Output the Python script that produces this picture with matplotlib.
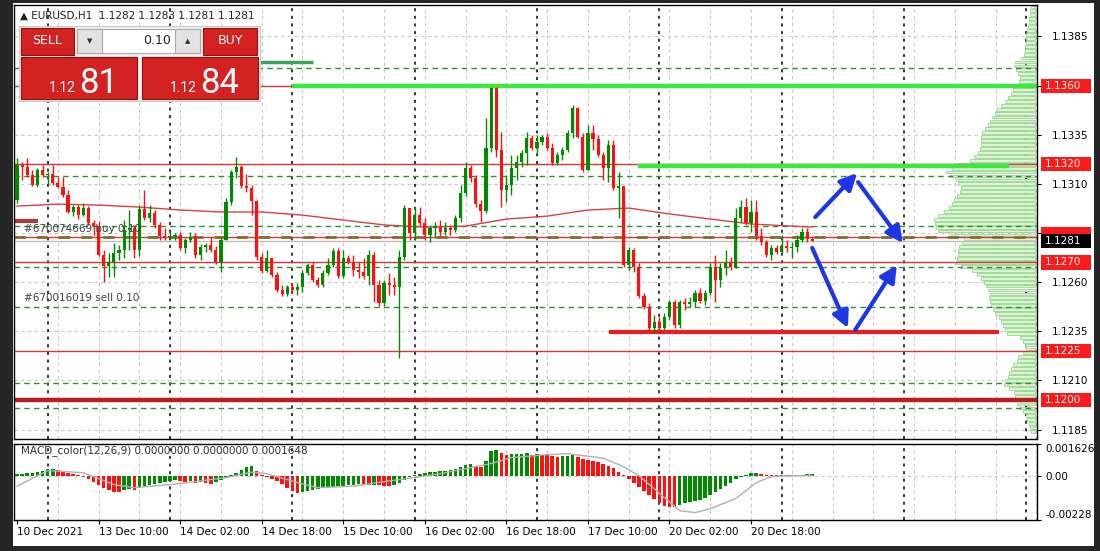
import numpy as np
import matplotlib
matplotlib.use("Agg")
import matplotlib.pyplot as plt
from matplotlib.patches import Rectangle
from matplotlib.transforms import blended_transform_factory

# ---------------- data ----------------
# EURUSD H1 candles, bar 0 = 10 Dec 18:00 ... bar 156 = 21 Dec 05:00
first_open = 1.13018
close = [1.13196, 1.13186, 1.13145, 1.13094, 1.13170, 1.13145, 1.13150, 1.13104, 1.13084, 1.13043,
         1.12957, 1.12982, 1.12941, 1.12977, 1.12901, 1.12885, 1.12738, 1.12682, 1.12702, 1.12748,
         1.12763, 1.12865, 1.12875, 1.12763, 1.12972, 1.12926, 1.12952, 1.12891, 1.12835, 1.12830,
         1.12835, 1.12838, 1.12774, 1.12814, 1.12830, 1.12738, 1.12779, 1.12789, 1.12763, 1.12702,
         1.12814, 1.13008, 1.13160, 1.13186, 1.13089, 1.13079, 1.13013, 1.12728, 1.12656, 1.12723,
         1.12636, 1.12560, 1.12539, 1.12575, 1.12560, 1.12575, 1.12646, 1.12687, 1.12611, 1.12585,
         1.12646, 1.12687, 1.12758, 1.12631, 1.12723, 1.12702, 1.12662, 1.12651, 1.12631, 1.12738,
         1.12585, 1.12494, 1.12595, 1.12585, 1.12575, 1.12728, 1.12977, 1.12850, 1.12941, 1.12901,
         1.12840, 1.12875, 1.12880, 1.12855, 1.12875, 1.12865, 1.12926, 1.13053, 1.13181, 1.13130,
         1.12997, 1.12962, 1.13282, 1.13588, 1.13272, 1.13069, 1.13094, 1.13181, 1.13211, 1.13257,
         1.13333, 1.13282, 1.13313, 1.13338, 1.13282, 1.13206, 1.13247, 1.13272, 1.13359, 1.13486,
         1.13338, 1.13170, 1.13359, 1.13328, 1.13247, 1.13181, 1.13298, 1.13079, 1.13089, 1.12687,
         1.12763, 1.12677, 1.12529, 1.12473, 1.12366, 1.12397, 1.12366, 1.12422, 1.12499, 1.12382,
         1.12499, 1.12489, 1.12499, 1.12545, 1.12504, 1.12545, 1.12677, 1.12611, 1.12672, 1.12697,
         1.12677, 1.12926, 1.12982, 1.12901, 1.12957, 1.12835, 1.12804, 1.12738, 1.12774, 1.12753,
         1.12784, 1.12774, 1.12779, 1.12814, 1.12855, 1.12819, 1.12810]
high = [1.13232, 1.13211, 1.13232, 1.13170, 1.13181, 1.13196, 1.13160, 1.13196, 1.13135, 1.13135,
        1.13069, 1.12992, 1.12992, 1.13003, 1.12987, 1.12916, 1.12911, 1.12763, 1.12748, 1.12799,
        1.12789, 1.12916, 1.12967, 1.12891, 1.12992, 1.13069, 1.12992, 1.12967, 1.12906, 1.12875,
        1.12855, 1.12850, 1.12855, 1.12824, 1.12855, 1.12850, 1.12794, 1.12799, 1.12830, 1.12784,
        1.12824, 1.13028, 1.13170, 1.13237, 1.13196, 1.13150, 1.13094, 1.13018, 1.12748, 1.12763,
        1.12723, 1.12651, 1.12585, 1.12585, 1.12595, 1.12595, 1.12662, 1.12697, 1.12702, 1.12626,
        1.12662, 1.12723, 1.12774, 1.12774, 1.12763, 1.12738, 1.12738, 1.12702, 1.12723, 1.12763,
        1.12753, 1.12611, 1.12611, 1.12646, 1.12626, 1.12763, 1.12992, 1.12941, 1.12982, 1.12982,
        1.12926, 1.12891, 1.12906, 1.12916, 1.12906, 1.12891, 1.12941, 1.13094, 1.13211, 1.13196,
        1.13145, 1.13018, 1.13435, 1.13593, 1.13593, 1.13364, 1.13145, 1.13247, 1.13247, 1.13272,
        1.13364, 1.13349, 1.13349, 1.13349, 1.13359, 1.13308, 1.13262, 1.13288, 1.13374, 1.13501,
        1.13491, 1.13359, 1.13399, 1.13399, 1.13349, 1.13262, 1.13323, 1.13323, 1.13160, 1.13084,
        1.12779, 1.12774, 1.12697, 1.12545, 1.12494, 1.12433, 1.12422, 1.12443, 1.12509, 1.12509,
        1.12509, 1.12519, 1.12524, 1.12560, 1.12570, 1.12560, 1.12697, 1.12738, 1.12697, 1.12763,
        1.12728, 1.12977, 1.13018, 1.13028, 1.13018, 1.13018, 1.12875, 1.12814, 1.12789, 1.12789,
        1.12840, 1.12814, 1.12804, 1.12840, 1.12875, 1.12875, 1.12830]
low = [1.13003, 1.13120, 1.13135, 1.13089, 1.13084, 1.13135, 1.13094, 1.13094, 1.13079, 1.13033,
       1.12952, 1.12936, 1.12921, 1.12936, 1.12891, 1.12840, 1.12733, 1.12601, 1.12626, 1.12626,
       1.12712, 1.12723, 1.12763, 1.12723, 1.12733, 1.12916, 1.12906, 1.12875, 1.12814, 1.12814,
       1.12819, 1.12814, 1.12763, 1.12748, 1.12804, 1.12723, 1.12712, 1.12753, 1.12753, 1.12692,
       1.12651, 1.12814, 1.12992, 1.13130, 1.13079, 1.13059, 1.12941, 1.12712, 1.12646, 1.12651,
       1.12626, 1.12550, 1.12529, 1.12529, 1.12545, 1.12534, 1.12550, 1.12636, 1.12601, 1.12575,
       1.12575, 1.12636, 1.12677, 1.12621, 1.12621, 1.12692, 1.12631, 1.12621, 1.12616, 1.12585,
       1.12499, 1.12478, 1.12478, 1.12534, 1.12534, 1.12214, 1.12712, 1.12814, 1.12814, 1.12885,
       1.12814, 1.12804, 1.12824, 1.12835, 1.12840, 1.12840, 1.12855, 1.12906, 1.13038, 1.13109,
       1.12982, 1.12906, 1.12952, 1.13262, 1.13237, 1.12982, 1.13008, 1.13043, 1.13120, 1.13186,
       1.13196, 1.13272, 1.13247, 1.13298, 1.13272, 1.13196, 1.13196, 1.13221, 1.13262, 1.13333,
       1.13333, 1.13160, 1.13170, 1.13272, 1.13237, 1.13120, 1.13109, 1.13069, 1.12926, 1.12677,
       1.12662, 1.12651, 1.12519, 1.12463, 1.12356, 1.12341, 1.12341, 1.12356, 1.12407, 1.12366,
       1.12366, 1.12458, 1.12473, 1.12473, 1.12494, 1.12483, 1.12534, 1.12499, 1.12575, 1.12636,
       1.12662, 1.12672, 1.12906, 1.12891, 1.12855, 1.12814, 1.12789, 1.12728, 1.12712, 1.12743,
       1.12748, 1.12753, 1.12723, 1.12753, 1.12804, 1.12804, 1.12810]

date_ticks = [0, 16, 32, 48, 64, 80, 96, 112, 128, 144]
date_labels = ["10 Dec 2021", "13 Dec 10:00", "14 Dec 02:00", "14 Dec 18:00", "15 Dec 10:00",
               "16 Dec 02:00", "16 Dec 18:00", "17 Dec 10:00", "20 Dec 02:00", "20 Dec 18:00"]
day_starts = [6, 30, 54, 78, 102, 126, 150, 174, 198]

# slow moving average (red line)
ma_bars = [0, 8, 16, 24, 32, 40, 48, 56, 64, 72, 80, 88, 96, 104, 112, 120, 128, 136, 144, 152, 156]
ma_vals = [1.12987, 1.12997, 1.12992, 1.12982, 1.12967, 1.12957, 1.12957, 1.12941, 1.12916, 1.12891,
           1.12880, 1.12885, 1.12921, 1.12936, 1.12967, 1.12977, 1.12947, 1.12921, 1.12896, 1.12885,
           1.12880]

# MACD histogram, in 1e-5
macd_hist = [8, 10, 13, 15, 21, 26, 33, 36, 31, 21, 15, 10, 5, -5, -15, -31, -46, -62, -72, -82,
             -85, -72, -67, -72, -62, -51, -46, -41, -36, -31, -26, -23, -26, -31, -28, -36, -31, -36, -41, -31,
             -21, -10, 3, 15, 31, 46, 49, 26, 5, -5, -15, -26, -41, -62, -77, -87, -82, -77, -72, -67,
             -62, -59, -57, -54, -51, -49, -46, -44, -46, -49, -46, -49, -51, -54, -46, -36, -21, -5, 5, 10,
             15, 18, 21, 23, 26, 31, 36, 46, 57, 62, 51, 46, 77, 129, 134, 118, 108, 111, 111, 113,
             116, 108, 111, 108, 105, 100, 98, 100, 103, 105, 98, 87, 82, 77, 72, 62, 51, 41, 21, 5,
             -15, -36, -57, -77, -98, -118, -139, -154, -159, -162, -149, -139, -134, -129, -123, -113, -98, -82, -67, -51,
             -36, -15, -5, 5, 13, 13, 10, 5, 3, 2, 2, 3, 4, 4, 5, 6, 10]
signal_bars = [0, 6, 13, 19, 23, 30, 35, 41, 46, 49, 55, 59, 66, 72, 78, 83, 88, 93, 97, 104,
               108, 115, 119, 122, 126, 130, 133, 136, 141, 145, 148, 153, 156]
signal_vals = [-54, 26, 15, -46, -62, -46, -31, -10, 18, 10, -36, -62, -54, -31, -10, 10, 36, 62, 93, 108,
               113, 90, 46, 0, -90, -180, -190, -170, -118, -36, -5, 0, 0]

# volume profile on the right, bins of 2 pips from 1.1184
profile_low = 1.1184
profile_step = 0.0002
profile_vol = [4, 5, 6, 8, 9, 12, 16, 18, 22, 20, 21, 26, 31, 30, 27, 26, 24, 22, 18, 17,
               12, 9, 10, 12, 15, 28, 30, 32, 34, 36, 40, 42, 44, 45, 46, 45, 47, 49, 51, 55,
               59, 64, 75, 80, 79, 78, 78, 77, 74, 72, 85, 98, 100, 101, 102, 98, 92, 87, 84, 82,
               79, 76, 75, 78, 80, 86, 90, 84, 78, 66, 62, 58, 56, 55, 55, 55, 54, 50, 47, 45,
               43, 40, 38, 34, 30, 27, 24, 22, 18, 16, 15, 17, 19, 21, 20, 14, 11, 10, 10, 9,
               9, 9, 8, 7, 6, 6, 5, 5, 4]

# horizontal levels
red_levels = [1.1360, 1.1320, 1.12830, 1.1270, 1.1225]
green_dash_levels = [1.13690, 1.13140, 1.12885, 1.12677, 1.12473, 1.12087, 1.11959]
order_level = 1.12830
bid = 1.1281
support_1200 = 1.1200

# drawn trend objects: (bar_from, bar_to, price)
lime_segments = [(54, 200.1, 1.1360), (121.8, 194.6, 1.1319)]
red_segment = (116.1, 192.7, 1.12345)
# blue scenario arrows: (x0, p0, x1, p1)
arrows = [(156.6, 1.12931, 164.8, 1.13155), (165.0, 1.13109, 173.8, 1.12799),
          (156.0, 1.12774, 163.0, 1.12366), (164.4, 1.12356, 172.6, 1.12687)]

price_ticks = [1.1185, 1.1210, 1.1235, 1.1260, 1.1285, 1.1310, 1.1335, 1.1360, 1.1385]
hidden_ticks = [1.1285, 1.1360]  # covered by the price tags in the terminal
red_tags = [1.1360, 1.1320, 1.1270, 1.1225, 1.1200]
order_tag = 1.12845

# ---------------- figure ----------------
W, H = 1100, 551
fig = plt.figure(figsize=(11, 5.51), dpi=100, facecolor="#262626")
fig.add_artist(Rectangle((13 / W, 1 - 546 / H), 1081 / W, 543 / H, transform=fig.transFigure,
                         fc="white", ec="none", zorder=0))

ax = fig.add_axes([14 / W, 1 - 439 / H, 1023 / W, 434 / H])
axm = fig.add_axes([14 / W, 1 - 520 / H, 1023 / W, 76 / H])
xmin, xmax = -0.6, 200.1
for a in (ax, axm):
    a.set_xlim(xmin, xmax)
    for s in a.spines.values():
        s.set_color("black")
        s.set_linewidth(1)
    for g in range(8, 201, 8):
        a.axvline(g, color="#c8c8c8", lw=0.8, ls=(0, (3, 3)), zorder=0.5)
    for d in day_starts:
        a.axvline(d, color="black", lw=1.1, ls=(0, (2, 3)), zorder=0.6)

ax.set_ylim(1.11802, 1.14010)

# volume profile
vol = np.array(profile_vol, dtype=float)
pp = profile_low + profile_step * np.arange(len(vol))
wid = vol / vol.max() * 20.0
ax.barh(pp, wid, left=199.8 - wid, height=profile_step * 0.72,
        color="#dcf3d6", edgecolor="#98d690", lw=0.6, zorder=0.8)

# horizontal levels
for p in green_dash_levels:
    ax.axhline(p, color="#2f8f2f", lw=1, ls=(0, (4, 3)), zorder=1.5)
for p in red_levels:
    ax.axhline(p, color="#dd3333", lw=1, zorder=1.6)
ax.axhline(order_level, color="#8a6a2a", lw=2, ls=(0, (4, 4)), zorder=1.7)
ax.axhline(bid, color="#bdbdbd", lw=1, zorder=1.5)
ax.axhline(support_1200, color="#b51f1f", lw=3.2, zorder=1.7)
ax.hlines(1.12911, xmin, 4.1, color="#b03a3a", lw=3, zorder=1.8)
ax.hlines(1.13718, 47.7, 58.1, color="#3aa55a", lw=2.5, zorder=1.8)
for x0, x1, p in lime_segments:
    ax.hlines(p, x0, x1, color="#3be83b", lw=3.2, zorder=1.8)
ax.hlines(red_segment[2], red_segment[0], red_segment[1], color="#ee1c1c", lw=3, zorder=1.8)

# moving average
ax.plot(ma_bars, ma_vals, color="#d94040", lw=1, zorder=2)

# candles
c = np.array(close)
o = np.concatenate([[first_open], c[:-1]])
hi = np.array(high)
lo = np.array(low)
x = np.arange(len(c))
up = c >= o
col = np.where(up, "#008a00", "#ff1010")
ax.vlines(x, lo, hi, colors=col, lw=1, zorder=3)
body = np.maximum(np.abs(c - o), 0.000025)
ax.bar(x, body, bottom=np.minimum(c, o), width=0.62, color=col, lw=0, zorder=3.1)

# arrows
for x0, p0, x1, p1 in arrows:
    ax.annotate("", xy=(x1, p1), xytext=(x0, p0),
                arrowprops=dict(arrowstyle="-|>,head_length=0.9,head_width=0.45", color="#1c36e8",
                                lw=3, shrinkA=0, shrinkB=0, mutation_scale=11), zorder=4)

# order labels
ax.text(1.4, 1.12868, "#670074669 buy 0.10", fontsize=7.5, color="#404040", va="center", zorder=3.5)
ax.text(1.4, 1.12519, "#670016019 sell 0.10", fontsize=7.5, color="#404040", va="center", zorder=3.5)

# price axis
ax.yaxis.tick_right()
ax.set_yticks(price_ticks)
ax.set_yticklabels(["" if t in hidden_ticks else f"{t:.4f}" for t in price_ticks])
ax.tick_params(axis="y", length=3, pad=8, labelsize=7.5, colors="black")
ax.set_xticks([])
ax.grid(axis="y", color="#c8c8c8", lw=0.8, ls=(0, (3, 3)), zorder=0.5)
ax.set_axisbelow(True)

tr = blended_transform_factory(ax.transAxes, ax.transData)
tag_w = 50 / 1023          # tag box width, axes fraction
tag_h = 0.00072            # tag box height, price units
tag_x = 1.0035


def price_tag(p, fc, label=True, z=5):
    ax.add_patch(Rectangle((tag_x, p - tag_h / 2), tag_w, tag_h, transform=tr, fc=fc, ec="none",
                           clip_on=False, zorder=z))
    if label:
        ax.text(tag_x + 0.004, p, f"{p:.4f}", transform=tr, fontsize=7.5, color="white",
                va="center", ha="left", clip_on=False, zorder=z + 0.1)


price_tag(order_tag, "#ff1a1a", label=False, z=5)
for p in red_tags:
    price_tag(p, "#ff1a1a")
price_tag(bid, "black", z=6)

# ---------------- MACD panel ----------------
mh = np.array(macd_hist) * 1e-5
mcol = ["#008a00"] + ["#008a00" if mh[i] >= mh[i - 1] else "#ff1010" for i in range(1, len(mh))]
axm.set_ylim(-0.00228, 0.001626)
axm.axhline(0, color="#c8c8c8", lw=0.8, ls=(0, (3, 3)), zorder=0.5)
axm.bar(np.arange(len(mh)), mh, width=0.7, color=mcol, lw=0, zorder=2)
axm.plot(signal_bars, np.array(signal_vals) * 1e-5, color="#b0b0b0", lw=1, zorder=2.5)
axm.text(0.8, 0.00129, "MACD_color(12,26,9) 0.0000000 0.0000000 0.0001648", fontsize=7.5,
         color="#303030", va="center", zorder=3)
axm.yaxis.tick_right()
axm.set_yticks([0.001626, 0.0, -0.00228])
axm.set_yticklabels(["0.001626", "0.00", "-0.00228"])
axm.tick_params(axis="y", length=3, pad=3, labelsize=7.5)
labs = axm.get_yticklabels()
labs[0].set_va("top")
labs[2].set_va("bottom")
axm.set_xticks(date_ticks)
axm.set_xticklabels(date_labels, ha="left")
axm.tick_params(axis="x", length=3, pad=2, labelsize=7.5)

# ---------------- header and one-click trade panel ----------------
ui = fig.add_axes([0, 0, 1, 1], zorder=10)
ui.set_xlim(0, W)
ui.set_ylim(H, 0)
ui.axis("off")
ui.patch.set_alpha(0)

ui.text(20, 16, "\u25B2 EURUSD,H1  1.1282 1.1283 1.1281 1.1281", fontsize=7.5, color="#202020",
        va="center")

red_btn = "#d42222"
ui.add_patch(Rectangle((19, 26), 241, 75, fc="#f0f0f0", ec="#c8c8c8", lw=0.8))
ui.add_patch(Rectangle((21, 28), 53, 27, fc=red_btn, ec="#8e1010", lw=0.8))
ui.add_patch(Rectangle((203, 28), 54, 27, fc=red_btn, ec="#8e1010", lw=0.8))
ui.text(47.5, 41, "SELL", fontsize=9, color="white", ha="center", va="center")
ui.text(230, 41, "BUY", fontsize=9, color="white", ha="center", va="center")
ui.add_patch(Rectangle((77, 29), 123, 24, fc="white", ec="#a8a8a8", lw=0.8))
ui.add_patch(Rectangle((77, 29), 25, 24, fc="#e2e2e2", ec="#a8a8a8", lw=0.8))
ui.add_patch(Rectangle((175, 29), 25, 24, fc="#e2e2e2", ec="#a8a8a8", lw=0.8))
ui.text(89.5, 41, "\u25BC", fontsize=5, color="#303030", ha="center", va="center")
ui.text(187.5, 41, "\u25B2", fontsize=5, color="#303030", ha="center", va="center")
ui.text(171, 41, "0.10", fontsize=9, color="#202020", ha="right", va="center")
for bx, small, big in [(21, "1.12", "81"), (142, "1.12", "84")]:
    ui.add_patch(Rectangle((bx, 57), 116, 42, fc=red_btn, ec="#8e1010", lw=0.8))
    ui.text(bx + 55, 92, small, fontsize=10, color="white", ha="right", va="baseline",
            family=["Roboto", "DejaVu Sans"])
    ui.text(bx + 58, 93, big, fontsize=25, color="white", ha="left", va="baseline",
            family=["Roboto", "DejaVu Sans"])

fig.savefig("out.png", dpi=100, facecolor=fig.get_facecolor())
